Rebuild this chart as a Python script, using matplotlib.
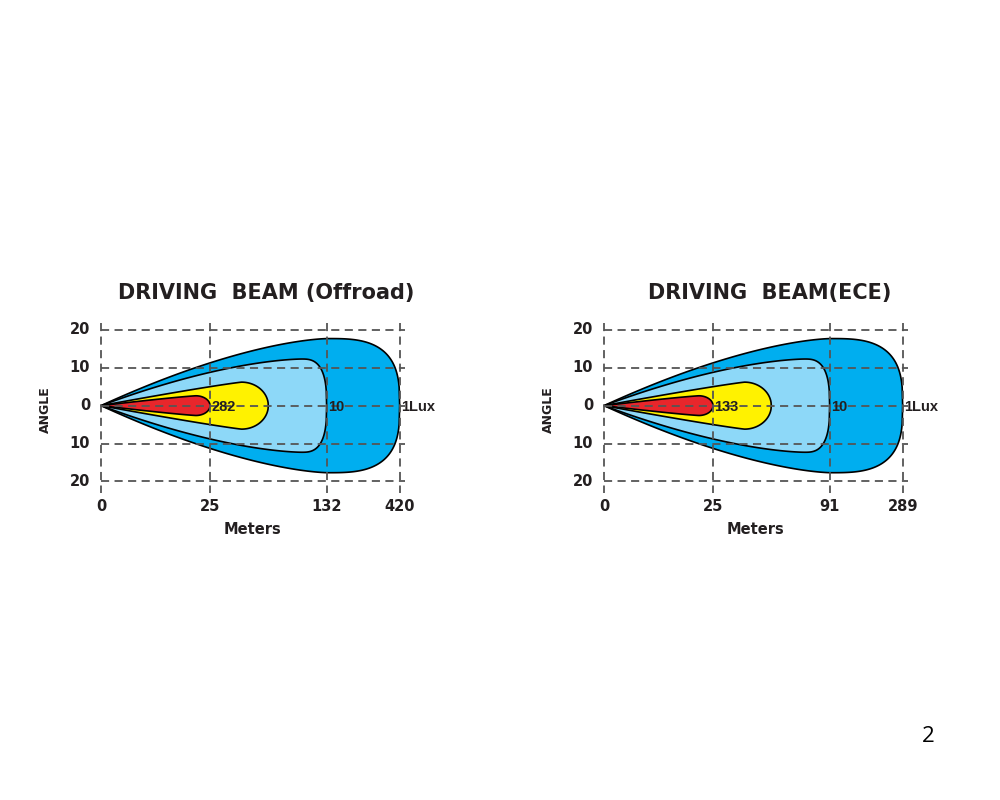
import numpy as np
import matplotlib
matplotlib.use("Agg")
import matplotlib.pyplot as plt

# --- data ---
titles = ["DRIVING  BEAM (Offroad)", "DRIVING  BEAM(ECE)"]
meters_left = ["0", "25", "132", "420"]
meters_right = ["0", "25", "91", "289"]
angle_ticks = [20, 10, 0, -10, -20]
angle_labels = ["20", "10", "0", "10", "20"]

# contours, outer -> inner : 1 lux, 10 lux, yellow, centre value
lux_left = ["1Lux", "10", "", "282"]
lux_right = ["1Lux", "10", "", "133"]
half_angle = [17.7, 12.3, 6.2, 2.6]        # max half width (deg)
reach_idx = [3, 2, None, 1]                # which distance line each contour ends on
yellow_reach = 1.535                       # yellow ends between 25 and the 10 lux line

# shape of each contour: where the widest point sits, rise and nose exponents
peak_at = [0.76, 0.89, 0.84, 0.87]
rise_m = [1.55, 1.6, 1.1, 1.15]
nose_k = [3.0, 2.8, 2.0, 2.0]

colors = ["#00AEEF", "#8DD8F8", "#FFF200", "#E8262B"]
grid_x = [0, 1, 2.07, 2.74]   # schematic (non linear) positions of the meter lines
ink = "#231F20"


def beam(ax, L, W, tc, m, k, color):
    t = np.linspace(0, 1, 600)
    s = np.clip(t / tc, 0, 1)
    u = np.clip((t - tc) / (1 - tc), 0, 1)
    g = np.where(t <= tc, 1 - (1 - s)**m, (1 - u**k)**(1 / k))
    x = np.concatenate([t * L, (t * L)[::-1]])
    y = np.concatenate([W * g, -(W * g)[::-1]])
    ax.fill(x, y, facecolor=color, edgecolor="black", lw=1.2, zorder=2)


def panel(ax, title, meters, lux):
    ax.set_xlim(-0.3, 3.2)
    ax.set_ylim(-26, 26)
    for s in ax.spines.values():
        s.set_visible(False)
    ax.set_xticks([])
    ax.set_yticks([])

    for i, W in enumerate(half_angle):
        L = yellow_reach if reach_idx[i] is None else grid_x[reach_idx[i]]
        beam(ax, L, W, peak_at[i], rise_m[i], nose_k[i], colors[i])

    dash = dict(color="#555555", lw=1.3, linestyle=(0, (4.5, 3)), zorder=3)
    for a in angle_ticks:
        ax.plot([0, 2.79], [a, a], **dash)
    for gx in grid_x:
        ax.plot([gx, gx], [21.7, -23.1], **dash)

    for a, lab in zip(angle_ticks, angle_labels):
        ax.text(-0.1, a, lab, ha="right", va="center", fontsize=10.5,
                fontweight="bold", color=ink)
    for gx, lab in zip(grid_x, meters):
        ax.text(gx, -26.5, lab, ha="center", va="center", fontsize=10.5,
                fontweight="bold", color=ink, clip_on=False)

    for i, lab in enumerate(lux):
        if not lab:
            continue
        gx = grid_x[reach_idx[i]]
        ax.text(gx + 0.01, -0.4, lab, ha="left", va="center", fontsize=10.5,
                family="Liberation Sans", fontweight="bold", color=ink, zorder=4)

    ax.text(1.39, -32.6, "Meters", ha="center", va="center", fontsize=10.5,
            fontweight="bold", color=ink, clip_on=False)
    ax.text(-0.51, -1.0, "ANGLE", ha="center", va="center", rotation=90,
            fontsize=9, fontweight="bold", color=ink, clip_on=False)
    ax.text(1.52, 29.6, title, ha="center", va="center", fontsize=15,
            fontweight="bold", color=ink, clip_on=False)


fig = plt.figure(figsize=(10, 8), dpi=100)
ax1 = fig.add_axes([0.0683, 0.3698, 0.3815, 0.2463])
ax2 = fig.add_axes([0.5713, 0.3698, 0.3815, 0.2463])
panel(ax1, titles[0], meters_left, lux_left)
panel(ax2, titles[1], meters_right, lux_right)

fig.text(0.928, 0.08, "2", ha="center", va="center", fontsize=16,
         family="Open Sans", color="black")

plt.savefig("out.png", dpi=100)
